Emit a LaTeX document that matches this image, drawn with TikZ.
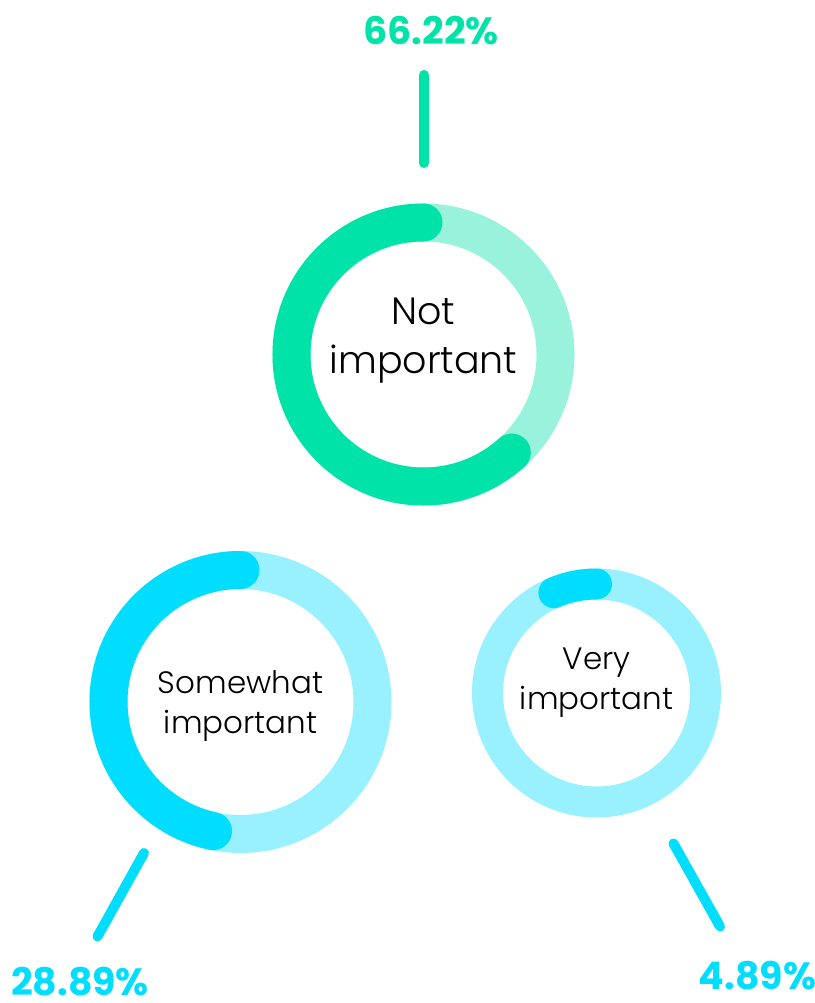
\documentclass[tikz,border=0pt]{standalone}
\usepackage{fontspec}
\setmainfont{Poppins}[UprightFont=* Light,BoldFont=* Bold]
\usetikzlibrary{positioning}
\definecolor{grn}{HTML}{00E3A8}
\definecolor{grnlight}{HTML}{99F2DC}
\definecolor{cyn}{HTML}{00DDFF}
\definecolor{cynlight}{HTML}{99F1FF}

\begin{document}
\begin{tikzpicture}[x=0.025cm,y=0.025cm,
    txt/.style={align=center,inner sep=0pt},
    pct/.style={inner sep=0pt,font=\bfseries\fontsize{27}{30}\selectfont},
    tick/.style={line width=0.25cm,line cap=round}]
  \useasboundingbox (0,0) rectangle (814,-1003);

  % rings
  \coordinate(cN) at (423.5,-354.5);
  \coordinate(cS) at (240.5,-702);
  \coordinate(cV) at (596.5,-693);

  \draw[grnlight,line width=0.95cm] (cN) circle[radius=132];
  \draw[grn,line width=0.95cm,line cap=round] ([shift=(90:132)]cN) arc[start angle=90,end angle=312,radius=132];

  \draw[cynlight,line width=0.95cm] (cS) circle[radius=132];
  \draw[cyn,line width=0.95cm,line cap=round] ([shift=(90:132)]cS) arc[start angle=90,end angle=258,radius=132];

  \draw[cynlight,line width=0.775cm] (cV) circle[radius=109];
  \draw[cyn,line width=0.775cm,line cap=round] ([shift=(90:109)]cV) arc[start angle=90,end angle=113,radius=109];

  \node(N) [txt,font=\fontsize{27}{35}\selectfont] at (423.5,-341) {Not\\important};
  \node(S) [txt,font=\fontsize{22}{28.5}\selectfont] at (240.5,-706) {Somewhat\\important};
  \node(V) [txt,font=\fontsize{22}{28.5}\selectfont] at (596.5,-683) {Very\\important};

  % percentages
  \node(pN) [pct,text=grn] at (431,-31) {66.22\%};
  \node(pS) [pct,text=cyn] at (80,-982) {28.89\%};
  \node(pV) [pct,text=cyn] at (757.5,-976) {4.89\%};

  \coordinate(tN1) at (424,-75);
  \coordinate(tN2) at (424,-163);
  \coordinate(tS1) at (144,-853);
  \coordinate(tS2) at (97.5,-936.5);
  \coordinate(tV1) at (673.5,-843.5);
  \coordinate(tV2) at (720,-926.5);

  \draw[tick,grn] (tN1) -- (tN2);
  \draw[tick,cyn] (tS1) -- (tS2);
  \draw[tick,cyn] (tV1) -- (tV2);
\end{tikzpicture}
\end{document}
